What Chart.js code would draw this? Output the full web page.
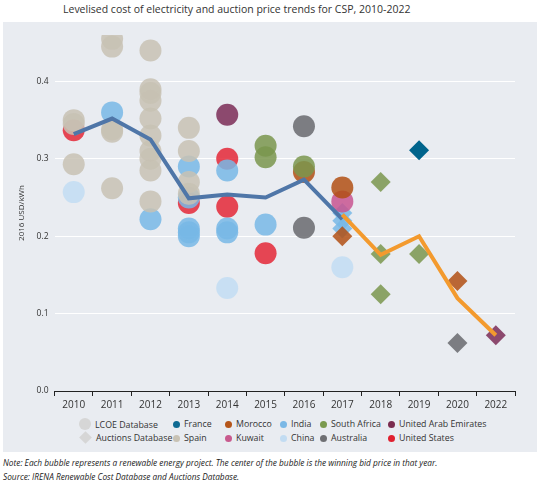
<!DOCTYPE html>
<html><head><meta charset="utf-8">
<script src="https://cdn.jsdelivr.net/npm/chart.js@4"></script>
<style>
body{margin:0;width:548px;height:487px;background:#fff;font-family:"Open Sans",sans-serif;position:relative;overflow:hidden}
#title{position:absolute;left:63px;top:2px;font-size:10.5px;color:#333}
#panel{position:absolute;left:3px;top:22px;width:534px;height:430px;background:#e9ecf1}
#wrap{position:absolute;left:0;top:0;width:534px;height:392px}
#legend{position:absolute;left:0;top:396px;font-size:8.8px;color:#333}
.it{position:absolute;white-space:nowrap}
.dot{display:inline-block;width:7px;height:7px;border-radius:50%;margin-right:4px;vertical-align:-0.5px}
#note{position:absolute;left:3px;top:456px;font-size:8.3px;font-style:italic;color:#222;line-height:14px}
</style></head><body>
<div id="title">Levelised cost of electricity and auction price trends for CSP, 2010-2022</div>
<div id="panel"><div id="wrap"><canvas id="c"></canvas></div><div id="legend"></div></div>
<div id="note">Note: Each bubble represents a renewable energy project. The center of the bubble is the winning bid price in that year.<br>Source: IRENA Renewable Cost Database and Auctions Database.</div>
<script>
const years=['2010','2011','2012','2013','2014','2015','2016','2017','2018','2019','2020','2022'];
const yTicks=[0,0.1,0.2,0.3,0.4];
// LCOE bubbles [year, value]
const spainC=[['2010',0.35],['2010',0.345],['2010',0.293],['2011',0.455],['2011',0.445],['2011',0.338],['2011',0.335],['2011',0.262],
['2012',0.44],['2012',0.39],['2012',0.385],['2012',0.375],['2012',0.352],['2012',0.33],['2012',0.31],['2012',0.30],['2012',0.285],['2012',0.245],
['2013',0.34],['2013',0.31],['2013',0.27],['2013',0.255]];
const indiaC=[['2011',0.36],['2012',0.222],['2013',0.29],['2013',0.25],['2013',0.21],['2013',0.205],['2013',0.20],['2014',0.285],['2014',0.21],['2014',0.205],['2015',0.215]];
const chinaC=[['2010',0.257],['2014',0.133],['2017',0.16]];
const usC=[['2010',0.337],['2013',0.243],['2014',0.30],['2014',0.238],['2015',0.178]];
const uaeC=[['2014',0.357]];
const saC=[['2015',0.317],['2015',0.302],['2016',0.29]];
const ausC=[['2016',0.342],['2016',0.211]];
const morC=[['2016',0.283],['2017',0.263]];
const kuwC=[['2017',0.245]];
// Auction diamonds
const indiaA=[['2017',0.23],['2017',0.22],['2017',0.21]];
const morA=[['2017',0.2],['2020',0.142]];
const saA=[['2018',0.27],['2018',0.177],['2018',0.125],['2019',0.177]];
const franceA=[['2019',0.311]];
const ausA=[['2020',0.062]];
const uaeA=[['2022',0.072]];
const lcoeAvg=[0.332,0.352,0.325,0.249,0.254,0.25,0.273,0.222,null,null,null,null];
const aucAvg=[null,null,null,null,null,null,null,0.228,0.176,0.2,0.12,0.072];

const col={spain:'rgba(200,194,180,0.85)',india:'rgba(120,184,230,0.85)',china:'rgba(196,222,243,0.9)',us:'rgba(228,40,55,0.85)',
uae:'rgba(130,55,95,0.9)',sa:'rgba(122,150,78,0.85)',aus:'rgba(105,106,110,0.85)',mor:'rgba(178,80,20,0.85)',kuw:'rgba(200,85,145,0.85)',fr:'rgba(0,100,140,1)'};
function pts(a){return a.map(p=>({x:p[0],y:p[1]}));}
function sc(a,c,diamond){return {type:'scatter',data:pts(a),backgroundColor:c,borderWidth:0,pointRadius:diamond?10:11,pointStyle:diamond?'rectRot':'circle',order:2};}
const ds=[
sc(spainC,col.spain),sc(chinaC,col.china),sc(indiaC,col.india),sc(usC,col.us),sc(uaeC,col.uae),sc(saC,col.sa),sc(ausC,col.aus),sc(morC,col.mor),sc(kuwC,col.kuw),
sc(morA,col.mor,1),sc(indiaA,col.india,1),sc(saA,col.sa,1),sc(franceA,col.fr,1),sc(ausA,col.aus,1),sc(uaeA,col.uae,1),
{type:'line',data:lcoeAvg,borderColor:'#4f76a8',borderWidth:4,pointRadius:0,order:1,spanGaps:false},
{type:'line',data:aucAvg,borderColor:'#f39a2e',borderWidth:4,pointRadius:0,order:0}
];
new Chart(document.getElementById('c'),{data:{labels:years,datasets:ds},
options:{responsive:true,maintainAspectRatio:false,animation:false,
layout:{padding:{top:13,right:22,left:10,bottom:0}},
plugins:{legend:{display:false},tooltip:{enabled:false}},
scales:{x:{type:'category',offset:true,border:{color:'#222',width:1},
ticks:{color:'#333',font:{size:10,family:'Open Sans'},padding:3},
grid:{display:true,drawOnChartArea:false,tickLength:5,color:'#222',offset:true}},
y:{min:0,max:0.46,afterBuildTicks:a=>{a.ticks=yTicks.map(v=>({value:v}));},
grid:{color:'#fff',lineWidth:1,drawTicks:false},border:{display:false},
ticks:{color:'#333',font:{size:8.5,family:'Open Sans'},padding:6,callback:v=>v.toFixed(1)},
title:{display:true,text:'2016 USD/kWh',color:'#333',font:{size:8,family:'Open Sans'}}}}}});
const L=[[76,0,'c','#d6d6d6','LCOE Database'],[76,1,'d','#d6d6d6','Auctions Database'],
[170,0,'o','#0e6a92','France'],[170,1,'o','#c8c2b4','Spain'],[222,0,'o','#b5561a','Morocco'],[222,1,'o','#c85a8e','Kuwait'],
[277,0,'o','#7ab8e6','India'],[277,1,'o','#c2dcf2','China'],[317,0,'o','#7a9a4e','South Africa'],[317,1,'o','#6e6f73','Australia'],
[385,0,'o','#7a2c4e','United Arab Emirates'],[385,1,'o','#e0202f','United States']];
const lg=document.getElementById('legend');
L.forEach(([x,r,t,c,txt])=>{const d=document.createElement('div');d.className='it';d.style.left=x+'px';d.style.top=(r*14)+'px';
let m;if(t==='c')m=`<span class="dot" style="width:12px;height:12px;background:${c};vertical-align:-2px"></span>`;
else if(t==='d')m=`<span style="display:inline-block;width:9px;height:9px;background:${c};transform:rotate(45deg);margin:0 6px 0 2px;vertical-align:-1px"></span>`;
else m=`<span class="dot" style="background:${c}"></span>`;
d.innerHTML=m+txt;lg.appendChild(d);});
</script></body></html>
